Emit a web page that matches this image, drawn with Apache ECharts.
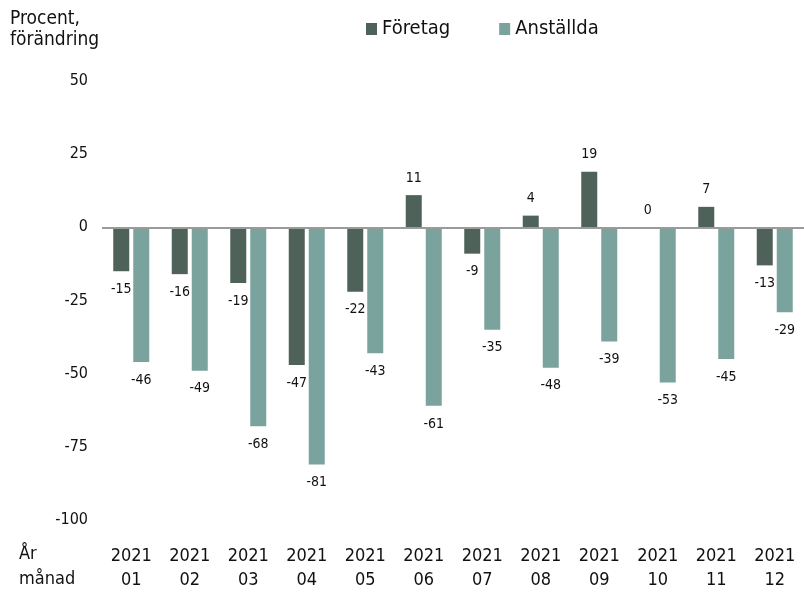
<!DOCTYPE html>
<html>
<head>
<meta charset="utf-8">
<script src="https://cdn.jsdelivr.net/npm/echarts@6/dist/echarts.min.js"></script>
<style>
  html, body { margin: 0; padding: 0; background: #fff; }
  #main { width: 804px; height: 595px; }
</style>
</head>
<body>
<div id="main"></div>
<script>
var months = ['2021\n01', '2021\n02', '2021\n03', '2021\n04', '2021\n05', '2021\n06',
              '2021\n07', '2021\n08', '2021\n09', '2021\n10', '2021\n11', '2021\n12'];
var foretag = [-15, -16, -19, -47, -22, 11, -9, 4, 19, 0, 7, -13];
var anstallda = [-46, -49, -68, -81, -43, -61, -35, -48, -39, -53, -45, -29];
var yTicks = { min: -100, max: 50, step: 25 };

var font = '"DejaVu Sans Condensed", "DejaVu Sans", sans-serif';
var myChart = echarts.init(document.getElementById('main'));

// etikett under stapeln om negativ, annars ovanför
function valLabel() {
    return {
        show: true,
        position: 'top',
        distance: 10,
        fontFamily: font,
        fontSize: 14,
        color: '#111'
    };
}

function toData(arr) {
    return arr.map(function (v) {
        return {
            value: v,
            label: { position: v < 0 ? 'bottom' : 'top', distance: v < 0 ? 11 : 10 }
        };
    });
}

myChart.setOption({
    animation: false,
    title: [{
        text: 'Procent,\nförändring',
        left: 10,
        top: 9,
        padding: 0,
        textStyle: { fontFamily: font, fontSize: 19, fontWeight: 'normal', color: '#111', lineHeight: 21 }
    }, {
        text: 'År\nmånad',
        left: 19,
        top: 542,
        padding: 0,
        textStyle: { fontFamily: font, fontSize: 18, fontWeight: 'normal', color: '#111', lineHeight: 25 }
    }],
    legend: {
        left: 366,
        top: 19,
        padding: 0,
        itemWidth: 11,
        itemHeight: 12,
        itemGap: 49,
        icon: 'rect',
        textStyle: { fontFamily: font, fontSize: 20, color: '#111' },
        data: ['Företag', 'Anställda']
    },
    grid: { left: 102, top: 81, width: 712, bottom: 75 },
    xAxis: {
        type: 'category',
        data: months,
        axisLine: { show: false, onZero: false },
        axisTick: { show: false },
        axisLabel: {
            margin: 24,
            fontFamily: font,
            fontSize: 18,
            lineHeight: 24,
            color: '#111'
        }
    },
    yAxis: {
        type: 'value',
        min: yTicks.min,
        max: yTicks.max,
        interval: yTicks.step,
        axisLine: { show: false },
        axisTick: { show: false },
        splitLine: { show: false },
        axisLabel: { margin: 14, fontFamily: font, fontSize: 16, color: '#111' }
    },
    series: [{
        name: 'Företag',
        type: 'bar',
        barWidth: 16,
        barGap: '25%',
        itemStyle: { color: '#4f6259' },
        label: valLabel(),
        data: toData(foretag),
        markLine: {
            silent: true,
            symbol: 'none',
            label: { show: false },
            lineStyle: { color: '#9a9a9a', width: 2, type: 'solid' },
            data: [{ yAxis: 0 }]
        },
        z: 3
    }, {
        name: 'Anställda',
        type: 'bar',
        barWidth: 16,
        itemStyle: { color: '#7aa39e' },
        label: valLabel(),
        data: toData(anstallda),
        z: 3
    }]
});
</script>
</body>
</html>
